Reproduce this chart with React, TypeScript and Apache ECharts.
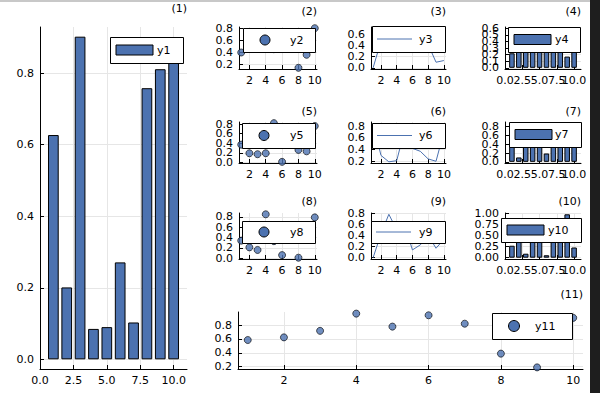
import React, { useEffect, useRef } from "react";
import * as echarts from "echarts";

// ---------- data ----------
const X = [1, 2, 3, 4, 5, 6, 7, 8, 9, 10];
const y1 = [0.627, 0.201, 0.902, 0.085, 0.09, 0.271, 0.103, 0.758, 0.811, 0.86];
const y2 = [0.395, 0.55, 0.65, 0.7, 0.45, 0.6, 0.5, 0.14, 0.357, 0.8];
const y3 = [0.0, 0.48, 0.71, 0.35, 0.6, 0.55, 0.62, 0.42, 0.1, 0.13];
const y4 = [0.22, 0.45, 0.6, 0.35, 0.5, 0.3, 0.55, 0.4, 0.17, 0.27];
const y5 = [0.37, 0.19, 0.17, 0.19, 0.82, 0.01, 0.5, 0.26, 0.23, 0.76];
const y6 = [0.85, 0.3, 0.19, 0.21, 0.73, 0.42, 0.37, 0.24, 0.2, 0.7];
const y7 = [0.5, 0.1, 0.6, 0.88, 0.45, 0.19, 0.7, 0.55, 0.4, 0.65];
const y8 = [0.34, 0.21, 0.16, 0.85, 0.33, 0.06, 0.55, 0.01, 0.45, 0.79];
const y9 = [0.0, 0.43, 0.78, 0.5, 0.6, 0.14, 0.23, 0.4, 0.17, 0.33];
const y10 = [0.27, 0.6, 0.09, 0.5, 0.75, 0.055, 0.45, 0.7, 0.98, 0.23];
const y11 = [0.584, 0.622, 0.716, 0.964, 0.777, 0.94, 0.819, 0.388, 0.19, 0.903];

const SERIES_NAMES = ["y1", "y2", "y3", "y4", "y5", "y6", "y7", "y8", "y9", "y10", "y11"];
const TITLES = ["(1)", "(2)", "(3)", "(4)", "(5)", "(6)", "(7)", "(8)", "(9)", "(10)", "(11)"];
const VALUES = [y1, y2, y3, y4, y5, y6, y7, y8, y9, y10, y11];
const KINDS = ["bar", "scatter", "line", "bar", "scatter", "line", "bar", "scatter", "line", "bar", "scatter"];

const BAR_X_TICKS = [0, 2.5, 5, 7.5, 10];
const PT_X_TICKS = [2, 4, 6, 8, 10];
const Y_TICKS = [
  [0, 0.2, 0.4, 0.6, 0.8],
  [0.2, 0.4, 0.6, 0.8],
  [0, 0.2, 0.4, 0.6],
  [0, 0.1, 0.2, 0.3, 0.4, 0.5, 0.6],
  [0, 0.2, 0.4, 0.6, 0.8],
  [0.2, 0.4, 0.6, 0.8],
  [0, 0.2, 0.4, 0.6, 0.8],
  [0, 0.2, 0.4, 0.6, 0.8],
  [0, 0.2, 0.4, 0.6, 0.8],
  [0, 0.25, 0.5, 0.75, 1.0],
  [0.2, 0.4, 0.6, 0.8],
];
const Y_DEC = [1, 1, 1, 1, 1, 1, 1, 1, 1, 2, 1];

// ---------- layout (pixels) ----------
const C1 = 239, C2 = 371, C3 = 505;
const W1 = 78, W2 = 75, W3 = 76;
const R1 = 27, R2 = 122, R3 = 213;
const H1 = 42, H2 = 41, H3 = 46;
const BOXES = [
  [40, 27, 147, 342],
  [C1, R1, W1, H1], [C2, R1, W2, H1], [C3, R1, W3, H1],
  [C1, R2, W1, H2], [C2, R2, W2, H2], [C3, R2, W3, H2],
  [C1, R3, W1, H3], [C2, R3, W2, H3], [C3, R3, W3, H3],
  [238, 312, 345, 57],
];
const TITLE_Y = [8.5, 11, 11, 11, 111, 111, 111, 201, 201, 201, 294];
const LEGENDS = [
  [110, 37, 73, 26, 47],
  [243, 28, 72, 24, 47],
  [372, 26, 73, 26, 47],
  [508, 27, 72, 25, 47],
  [242, 123, 73, 25, 48],
  [372, 123, 73, 25, 47],
  [509, 122, 72, 25, 46],
  [242, 221, 73, 22, 48],
  [371, 221, 74, 22, 48],
  [501, 218, 80, 24, 47],
  [492, 313, 80, 26, 43],
];

const FONT = "DejaVu Sans";
const BLUE = "#4C72B0";
const GRIDC = "#e6e6e6";

function widen(arr: number[]): [number, number] {
  const lo = Math.min(...arr), hi = Math.max(...arr);
  const d = (hi - lo) * 0.03;
  return [lo - d, hi + d];
}
function widenBar(arr: number[]): [number, number] {
  const lo = Math.min(0, ...arr), hi = Math.max(...arr);
  const d = (hi - lo) * 0.03;
  return [lo - d, hi + d];
}

// Builds one main axis (line, ticks, grid lines) plus label-only companion
// axes so that tightly packed tick labels are all drawn (as in the reference).
function makeAxes(i: number, range: [number, number], ticks: number[], dec: number, groups: number, isY: boolean) {
  const res: any[] = [];
  for (let g = 0; g < groups; g++) {
    const labelVals = ticks.filter((_, k) => k % groups === g);
    res.push({
      type: "value",
      gridIndex: i,
      position: isY ? "left" : "bottom",
      min: range[0],
      max: range[1],
      axisLine: { show: g === 0, onZero: false, lineStyle: { color: "#000", width: 1 } },
      axisTick: { show: g === 0, inside: true, length: 4, customValues: ticks, lineStyle: { color: "#000", width: 1 } },
      axisLabel: {
        show: true,
        customValues: labelVals,
        interval: 0,
        showMinLabel: true,
        showMaxLabel: true,
        hideOverlap: false,
        formatter: (v: number) => v.toFixed(dec),
        color: "#000",
        fontSize: 11,
        fontFamily: FONT,
        margin: 6,
      },
      splitLine: { show: g === 0, lineStyle: { color: GRIDC, width: 1 } },
    });
  }
  return res;
}

function buildOption() {
  const grid: any[] = [];
  const xAxis: any[] = [];
  const yAxis: any[] = [];
  const series: any[] = [];
  const graphic: any[] = [];

  VALUES.forEach((ys, i) => {
    const [l, t, w, h] = BOXES[i];
    const kind = KINDS[i];
    const isBar = kind === "bar";
    grid.push({ left: l, top: t, width: w, height: h, containLabel: false, outerBoundsMode: "none" });
    const xr: [number, number] = isBar ? [0, 11] : widen(X);
    const yr = isBar ? widenBar(ys) : widen(ys);
    const xi = xAxis.length;
    const yi = yAxis.length;
    const xGroups = isBar && i > 0 ? 2 : 1;
    const yGroups = i === 0 || i === 10 ? 1 : i === 3 ? 3 : 2;
    xAxis.push(...makeAxes(i, xr, isBar ? BAR_X_TICKS : PT_X_TICKS, isBar ? 1 : 0, xGroups, false));
    yAxis.push(...makeAxes(i, yr, Y_TICKS[i], Y_DEC[i], yGroups, true));
    const data = X.map((x, j) => [x, ys[j]]);
    if (isBar) {
      series.push({
        type: "bar", name: SERIES_NAMES[i], xAxisIndex: xi, yAxisIndex: yi, data,
        barWidth: (0.8 * w) / (xr[1] - xr[0]),
        itemStyle: { color: BLUE, borderColor: "#000", borderWidth: 1 },
      });
    } else if (kind === "scatter") {
      series.push({
        type: "scatter", name: SERIES_NAMES[i], xAxisIndex: xi, yAxisIndex: yi, data,
        symbol: "circle", symbolSize: 7, clip: false,
        itemStyle: { color: BLUE, borderColor: "#000", borderWidth: 0.8 },
      });
    } else {
      series.push({
        type: "line", name: SERIES_NAMES[i], xAxisIndex: xi, yAxisIndex: yi, data,
        symbol: "none", showSymbol: false,
        lineStyle: { color: BLUE, width: 1 },
      });
    }
    graphic.push({
      type: "text", z: 100,
      style: {
        text: TITLES[i], x: l + w, y: TITLE_Y[i], fill: "#000",
        font: `11px "${FONT}"`, textAlign: "right", textVerticalAlign: "middle",
        align: "right", verticalAlign: "middle",
      },
    });
    const [lx, ly, lw, lh, tx] = LEGENDS[i];
    const my = ly + lh / 2;
    graphic.push({
      type: "rect", z: 100,
      shape: { x: lx + 0.5, y: ly + 0.5, width: lw, height: lh },
      style: { fill: "#fff", stroke: "#000", lineWidth: 1 },
    });
    if (isBar) {
      graphic.push({
        type: "rect", z: 101,
        shape: { x: lx + 6, y: my - 5, width: 37, height: 10 },
        style: { fill: BLUE, stroke: "#000", lineWidth: 1 },
      });
    } else if (kind === "scatter") {
      graphic.push({
        type: "circle", z: 101,
        shape: { cx: lx + 22, cy: my, r: i === 10 ? 5.5 : 5 },
        style: { fill: BLUE, stroke: "#000", lineWidth: 1 },
      });
    } else {
      graphic.push({
        type: "line", z: 101,
        shape: { x1: lx + 5, y1: my, x2: lx + 40, y2: my },
        style: { stroke: BLUE, lineWidth: 1 },
      });
    }
    graphic.push({
      type: "text", z: 101,
      style: {
        text: SERIES_NAMES[i], x: lx + tx, y: my, fill: "#000",
        font: `11px "${FONT}"`, textAlign: "left", textVerticalAlign: "middle",
        align: "left", verticalAlign: "middle",
      },
    });
  });

  graphic.push({ type: "rect", z: 200, shape: { x: 0, y: 0, width: 600, height: 2 }, style: { fill: "#c8c8c8" } });
  graphic.push({ type: "rect", z: 200, shape: { x: 590, y: 0, width: 10, height: 393 }, style: { fill: "#1e1e1e" } });

  return {
    animation: false,
    backgroundColor: "#fff",
    textStyle: { fontFamily: FONT },
    grid, xAxis, yAxis, series, graphic,
  };
}

export default function App() {
  const ref = useRef<HTMLDivElement>(null);
  useEffect(() => {
    if (!ref.current) return;
    const chart = echarts.init(ref.current, undefined, { renderer: "svg" });
    chart.setOption(buildOption() as any);
    return () => chart.dispose();
  }, []);
  return (
    <div
      ref={ref}
      style={{ position: "absolute", left: 0, top: 0, width: 600, height: 393, background: "#fff" }}
    />
  );
}
